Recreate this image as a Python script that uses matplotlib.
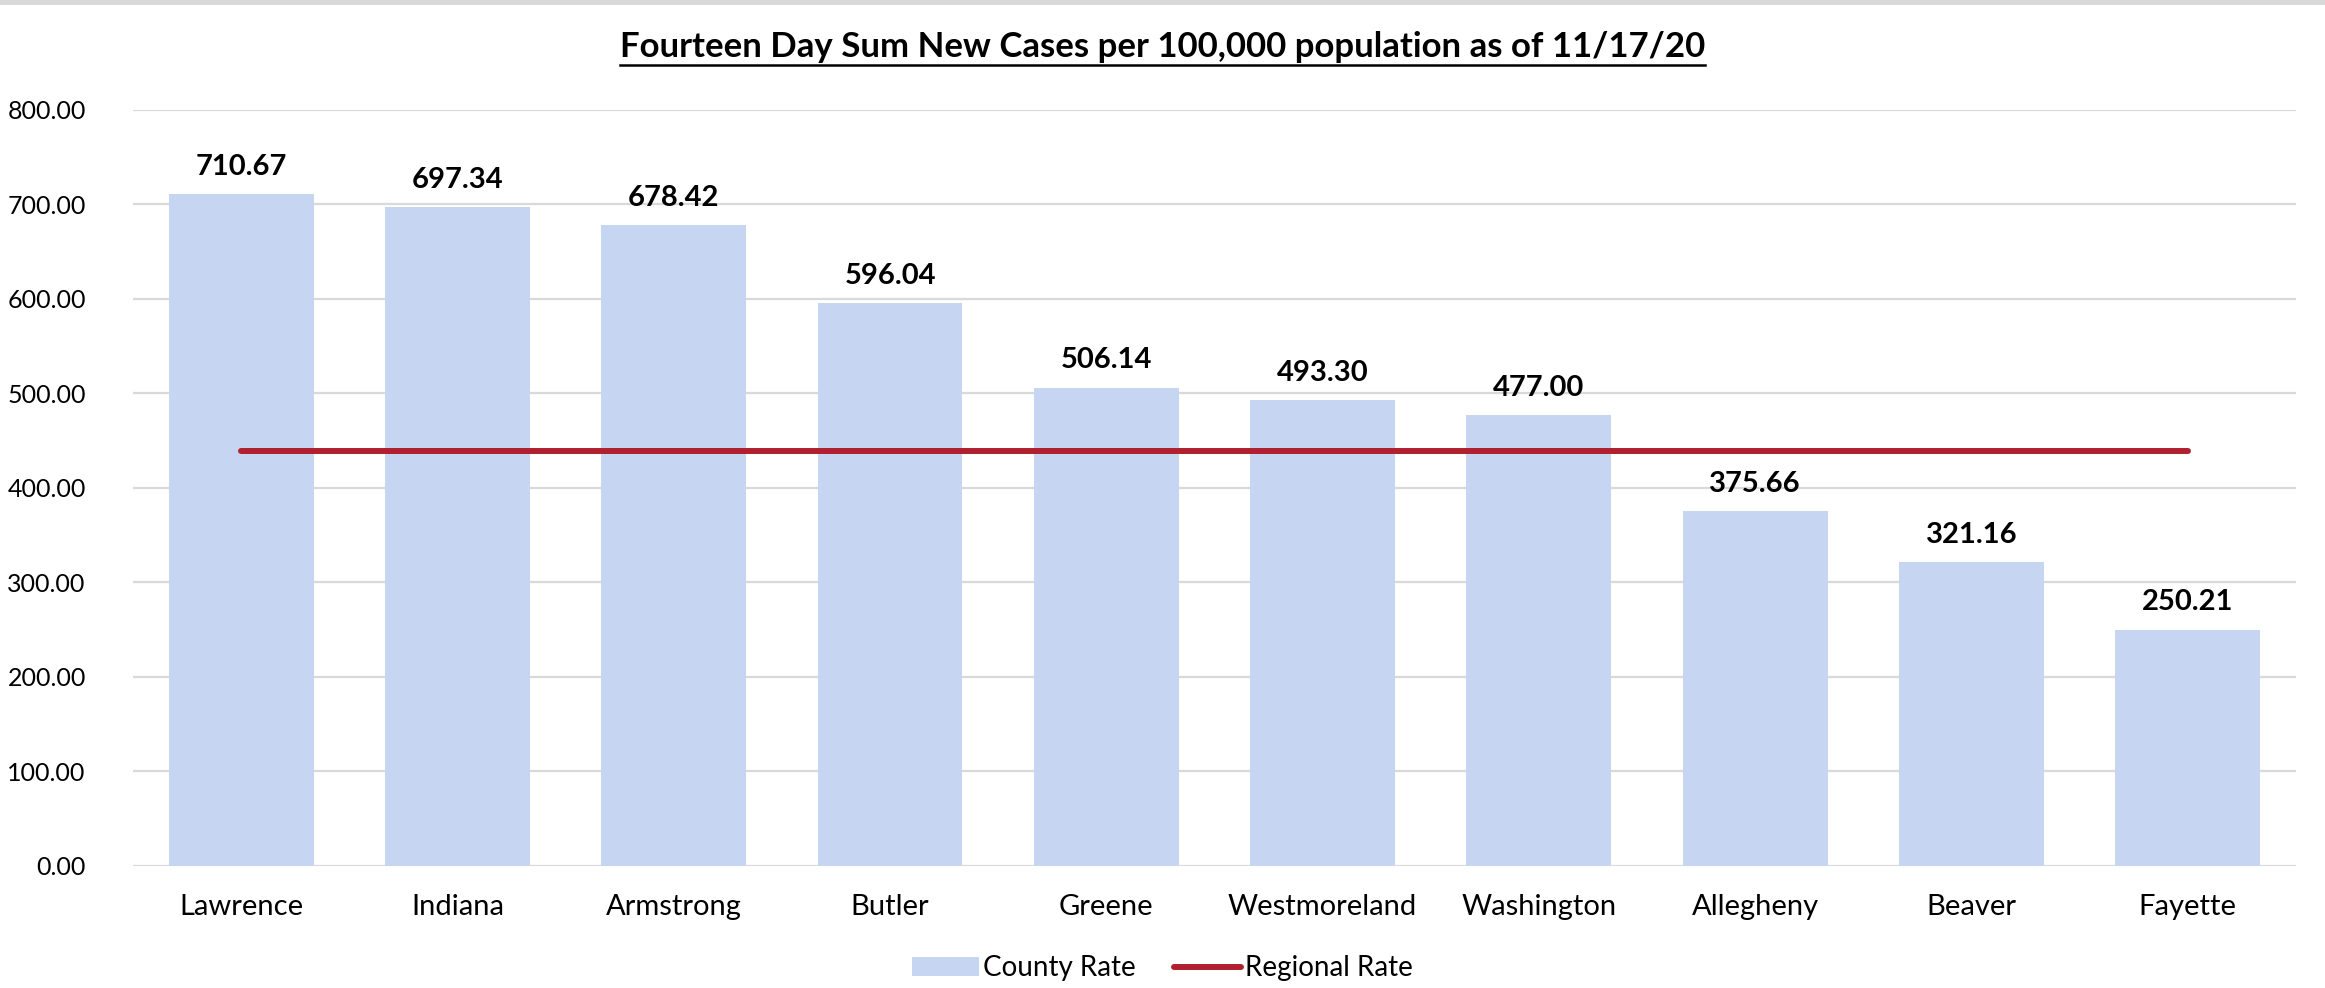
import matplotlib
matplotlib.use("Agg")
import matplotlib.pyplot as plt
from matplotlib.lines import Line2D
import numpy as np

counties = ["Lawrence", "Indiana", "Armstrong", "Butler", "Greene",
            "Westmoreland", "Washington", "Allegheny", "Beaver", "Fayette"]
county_rate = [710.67, 697.34, 678.42, 596.04, 506.14, 493.30, 477.00,
               375.66, 321.16, 250.21]
regional_rate = [438.9] * len(counties)
yticks = [0, 100, 200, 300, 400, 500, 600, 700, 800]
title = "Fourteen Day Sum New Cases per 100,000 population as of 11/17/20"

plt.rcParams['font.family'] = ['Lato', 'DejaVu Sans']

BAR = "#C5D5F2"
LINE = "#B0202F"
GRID = "#D9D9D9"

fig = plt.figure(figsize=(23.25, 9.88), dpi=100)
ax = fig.add_axes([0.0572, 0.1235, 0.9303, 0.7652])

x = np.arange(len(counties))
bars = ax.bar(x, county_rate, width=0.67, color=BAR, zorder=2, label="County Rate")
line, = ax.plot(x, regional_rate, color=LINE, lw=4.3, solid_capstyle='round',
                zorder=3, label="Regional Rate")

for xi, v in zip(x, county_rate):
    ax.text(xi, v + 15, f"{v:.2f}", ha='center', va='bottom',
            fontsize=21, fontweight='bold', color='black', zorder=4)

ax.set_xlim(-0.5, len(counties) - 0.5)
ax.set_ylim(0, 800)
ax.set_yticks(yticks)
ax.set_yticklabels([f"{t:.2f}" for t in yticks], fontsize=18)
ax.set_xticks(x)
ax.set_xticklabels(counties, fontsize=21)
ax.tick_params(axis='both', length=0, colors='black')
ax.tick_params(axis='y', pad=34)
ax.tick_params(axis='x', pad=20)
ax.yaxis.grid(True, color=GRID, lw=1.6, zorder=0)
ax.set_axisbelow(True)
for s in ax.spines.values():
    s.set_visible(False)

leg = fig.legend([bars, line], ["County Rate", "Regional Rate"],
                 loc='center', bbox_to_anchor=(0.5, 0.02), ncol=2,
                 frameon=False, fontsize=20, handlelength=2.4,
                 handletextpad=0.15, columnspacing=1.4)

t = fig.text(0.5, 0.952, title, ha='center', va='center', fontsize=25,
             fontweight='bold', color='black')

# top gray strip
fig.add_artist(plt.Rectangle((0, 0.995), 1, 0.005, transform=fig.transFigure,
                             color="#D9D9D9", lw=0))

# underline title
fig.canvas.draw()
bb = t.get_window_extent().transformed(fig.transFigure.inverted())
fig.add_artist(Line2D([bb.x0, bb.x1], [bb.y0 - 0.002, bb.y0 - 0.002],
                      transform=fig.transFigure, color='black', lw=1.8))

fig.savefig("out.png", dpi=100)
